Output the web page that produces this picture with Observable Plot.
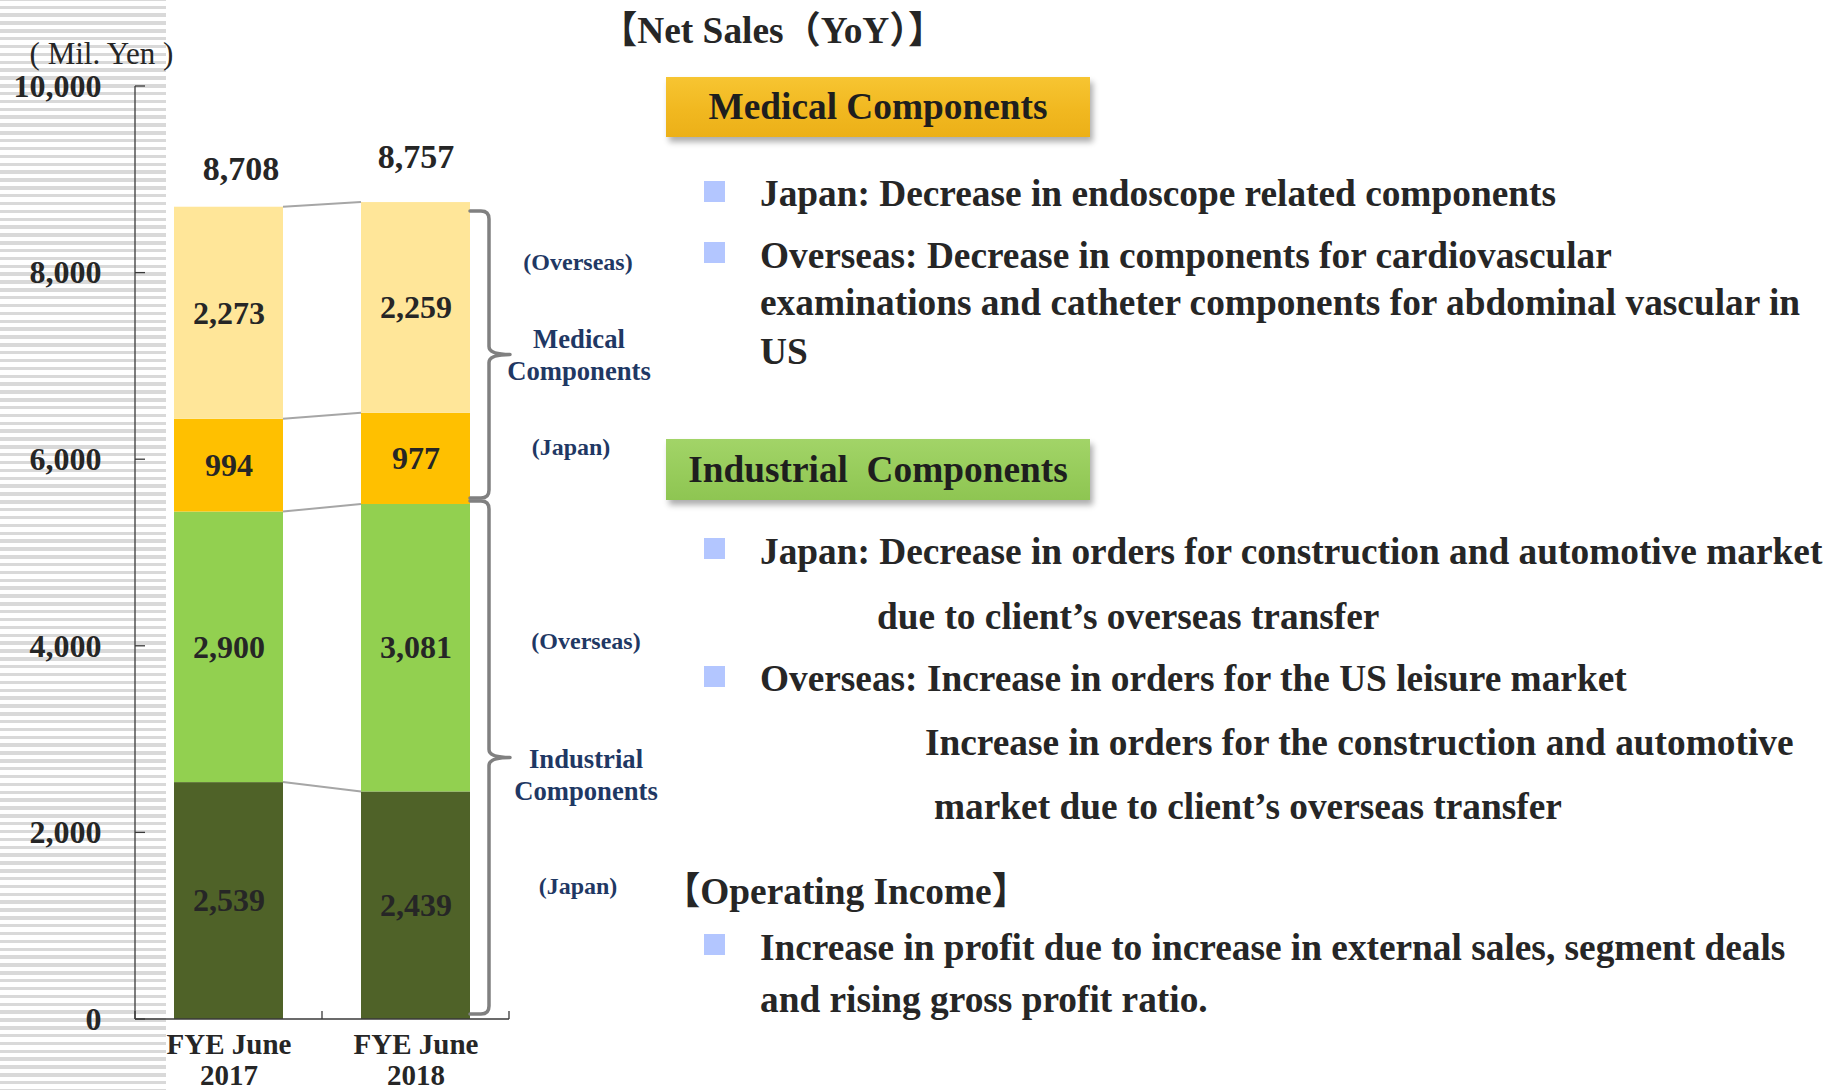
<!DOCTYPE html>
<html>
<head>
<meta charset="utf-8">
<script src="https://cdn.jsdelivr.net/npm/d3@7"></script>
<script src="https://cdn.jsdelivr.net/npm/@observablehq/plot@0.6"></script>
<style>
  html, body { margin: 0; padding: 0; background: #fff; overflow: hidden; }
  #page { position: relative; width: 1828px; height: 1090px; overflow: hidden;
    font-family: "Liberation Serif", "Times New Roman", "Noto Sans CJK JP", serif; }
  #stripes { position: absolute; left: 0; top: 0; width: 166px; height: 1090px;
    background: repeating-linear-gradient(180deg, #d9d9d9 0px, #d9d9d9 1.2px, #ffffff 1.2px, #ffffff 5.6px, #d9d9d9 5.6px, #d9d9d9 7.85px); }
  #chart { position: absolute; left: 0; top: 0; }
  .t { position: absolute; white-space: pre; font-weight: bold; font-size: 37.33px; line-height: 44.8px; color: #262626; }
  .box { position: absolute; left: 666px; width: 424px; text-align: center; white-space: pre;
    font-weight: bold; font-size: 37.33px; color: #1e1e1e; box-shadow: 3px 5px 6px rgba(0,0,0,0.32); }
  .bullet { position: absolute; width: 21px; height: 21px; background: #b3c6ff; }
</style>
</head>
<body>
<div id="page">
  <div id="stripes"></div>
  <div id="chart"></div>
</div>
<script>
// ---------------- data ----------------
const years = ["FYE June 2017", "FYE June 2018"];
const seriesNames = ["Industrial (Japan)", "Industrial (Overseas)", "Medical (Japan)", "Medical (Overseas)"];
const seriesColors = ["#4F6228", "#92D050", "#FFC000", "#FFE699"];
const industrialJapan = [2539, 2439];
const industrialOverseas = [2900, 3081];
const medicalJapan = [994, 977];
const medicalOverseas = [2273, 2259];
const totals = [8708, 8757];
const yTicks = [0, 2000, 4000, 6000, 8000, 10000];
const yUnit = "( Mil. Yen )";
const groupNames = ["Medical\nComponents", "Industrial\nComponents"];
const regionNames = ["(Overseas)", "(Japan)"];

const title = "【Net Sales（YoY）】";
const medicalHeading = "Medical Components";
const medicalNotes = [
  "Japan: Decrease in endoscope related components",
  "Overseas: Decrease in components for cardiovascular",
  "examinations and catheter components for abdominal vascular in",
  "US"
];
const industrialHeading = "Industrial  Components";
const industrialNotes = [
  "Japan: Decrease in orders for construction and automotive market",
  "due to client’s overseas transfer",
  "Overseas: Increase in orders for the US leisure market",
  "Increase in orders for the construction and automotive",
  "market due to client’s overseas transfer"
];
const incomeHeading = "【Operating Income】";
const incomeNotes = [
  "Increase in profit due to increase in external sales, segment deals",
  "and rising gross profit ratio."
];

// ---------------- derived tables ----------------
const seriesValues = [industrialJapan, industrialOverseas, medicalJapan, medicalOverseas];
const rows = [];
years.forEach((year, i) => {
  let acc = 0;
  seriesValues.forEach((vals, s) => {
    rows.push({year, series: seriesNames[s], value: vals[i], y1: acc, y2: acc + vals[i]});
    acc += vals[i];
  });
});
const totalRows = years.map((year, i) => ({year, total: totals[i]}));
const totalOffsets = [{dx: 12, dy: -38}, {dx: 0, dy: -45}];
const fmt = d3.format(",");
const last = years[years.length - 1];
const seg = (s) => rows.find(r => r.year === last && r.series === seriesNames[s]);
const mid = (r) => (r.y1 + r.y2) / 2;

const FONT = '"Liberation Serif", "Times New Roman", serif';
const NAVY = "#1F3864";
const INK = "#262626";

// annotation layer: axis lines, boundary ticks, connectors, braces
function annotationLayer(index, scales, values, dimensions) {
  const sx = scales.x, sy = scales.y;
  const bw = typeof sx.bandwidth === "function" ? sx.bandwidth() : sx.bandwidth;
  const {width, height, marginLeft, marginRight, marginBottom} = dimensions;
  const left = marginLeft, right = width - marginRight, bottom = height - marginBottom;
  const g = d3.create("svg:g");
  const axisColor = "#3a3a3a";
  g.append("line").attr("x1", left).attr("x2", left)
    .attr("y1", sy(yTicks[yTicks.length - 1])).attr("y2", bottom)
    .attr("stroke", axisColor).attr("stroke-width", 1.3);
  g.append("line").attr("x1", left).attr("x2", right).attr("y1", bottom).attr("y2", bottom)
    .attr("stroke", axisColor).attr("stroke-width", 1.3);
  for (const t of yTicks) {
    g.append("line").attr("x1", left).attr("x2", left + 10).attr("y1", sy(t)).attr("y2", sy(t))
      .attr("stroke", axisColor).attr("stroke-width", 1.3);
  }
  const edges = [left];
  for (let i = 1; i < years.length; i++) edges.push((sx(years[i - 1]) + bw + sx(years[i])) / 2);
  edges.push(right);
  for (const e of edges) {
    g.append("line").attr("x1", e).attr("x2", e).attr("y1", bottom).attr("y2", bottom - 8)
      .attr("stroke", axisColor).attr("stroke-width", 1.3);
  }
  // connectors between stacked boundaries
  for (let i = 0; i < years.length - 1; i++) {
    const a = rows.filter(r => r.year === years[i]);
    const b = rows.filter(r => r.year === years[i + 1]);
    a.forEach((ra, s) => {
      g.append("line")
        .attr("x1", sx(years[i]) + bw).attr("y1", sy(ra.y2))
        .attr("x2", sx(years[i + 1])).attr("y2", sy(b[s].y2))
        .attr("stroke", "#a6a6a6").attr("stroke-width", 2);
    });
  }
  // braces
  const x0 = sx(last) + bw;
  const brace = (yTop, yBot) => {
    const xv = x0 + 19, xt = x0 + 40, r = 8, ym = (yTop + yBot) / 2;
    return `M${x0},${yTop} L${xv - r},${yTop} Q${xv},${yTop} ${xv},${yTop + r} L${xv},${ym - r} Q${xv},${ym} ${xt},${ym} ` +
           `Q${xv},${ym} ${xv},${ym + r} L${xv},${yBot - r} Q${xv},${yBot} ${xv - r},${yBot} L${x0},${yBot}`;
  };
  const medTop = sy(seg(3).y2) + 9, medBot = sy(seg(2).y1) - 6;
  const indTop = sy(seg(1).y2) - 3, indBot = sy(seg(0).y1) - 5;
  for (const d of [brace(medTop, medBot), brace(indTop, indBot)]) {
    g.append("path").attr("d", d).attr("fill", "none").attr("stroke", "#808080")
      .attr("stroke-width", 3.5).attr("stroke-linejoin", "round").attr("stroke-linecap", "round");
  }
  return g.node();
}

const braceLabels = [
  {year: last, text: regionNames[0], y: mid(seg(3)), dx: 162, dy: -47, size: 24},
  {year: last, text: groupNames[0], y: (seg(2).y1 + seg(3).y2) / 2, dx: 163, dy: 0, size: 26.67},
  {year: last, text: regionNames[1], y: mid(seg(2)), dx: 155, dy: -13, size: 24},
  {year: last, text: regionNames[0], y: mid(seg(1)), dx: 170, dy: -8, size: 24},
  {year: last, text: groupNames[1], y: (seg(0).y1 + seg(1).y2) / 2, dx: 170, dy: 12, size: 26.67},
  {year: last, text: regionNames[1], y: mid(seg(0)), dx: 162, dy: -21, size: 24}
];

const chart = Plot.plot({
  width: 700,
  height: 1090,
  marginLeft: 135,
  marginRight: 191,
  marginTop: 86,
  marginBottom: 71,
  style: {background: "transparent", fontFamily: FONT, color: INK, overflow: "visible"},
  x: {domain: years, paddingInner: 0.416, paddingOuter: 0.208, align: 0.5, label: null},
  y: {domain: [0, 10000], label: null},
  color: {domain: seriesNames, range: seriesColors},
  marks: [
    Plot.barY(rows, {x: "year", y1: "y1", y2: "y2", fill: "series"}),
    annotationLayer,
    Plot.text(rows, {x: "year", y: d => (d.y1 + d.y2) / 2, text: d => fmt(d.value),
      fontSize: 32, fontWeight: "bold", fill: INK}),
    ...totalRows.map((t, i) => Plot.text([t], {x: "year", y: "total", text: d => fmt(d.total),
      dx: totalOffsets[i].dx, dy: totalOffsets[i].dy, fontSize: 34, fontWeight: "bold", fill: INK})),
    Plot.axisY({ticks: yTicks, tickSize: 0, tickPadding: 34, tickFormat: fmt, label: null,
      fontSize: 32, fontWeight: "bold", color: INK}),
    Plot.axisX({tickSize: 0, tickPadding: 13, label: null,
      tickFormat: d => d.replace(/ (\d{4})$/, "\n$1"),
      fontSize: 29, fontWeight: "bold", lineHeight: 1.05, color: INK}),
    Plot.text([yUnit], {frameAnchor: "top-left", text: d => d, textAnchor: "middle", lineAnchor: "middle",
      dx: -34, dy: -32, fontSize: 31, fill: INK}),
    ...braceLabels.map(b => Plot.text([b], {x: "year", y: "y", text: "text", dx: b.dx, dy: b.dy,
      fontSize: b.size, fontWeight: "bold", fill: NAVY, lineHeight: 1.2}))
  ]
});
document.getElementById("chart").appendChild(chart);

// ---------------- right-hand notes (HTML) ----------------
const page = document.getElementById("page");
function addText(str, x, baseline) {
  const d = document.createElement("div");
  d.className = "t";
  d.textContent = str;
  d.style.left = x + "px";
  d.style.top = (baseline - 32.5) + "px";
  page.appendChild(d);
}
function addBullet(x, y) {
  const b = document.createElement("div");
  b.className = "bullet";
  b.style.left = x + "px";
  b.style.top = y + "px";
  page.appendChild(b);
}
function addBox(str, top, h, bg) {
  const b = document.createElement("div");
  b.className = "box";
  b.textContent = str;
  b.style.top = top + "px";
  b.style.height = h + "px";
  b.style.lineHeight = h + "px";
  b.style.background = bg;
  page.appendChild(b);
}

addText(title, 600, 41);
addBox(medicalHeading, 77, 60, "linear-gradient(180deg, #f7c532 0%, #f1b820 55%, #ecb018 100%)");
addBullet(704, 181);
addText(medicalNotes[0], 760, 204);
addBullet(704, 242);
addText(medicalNotes[1], 760, 266);
addText(medicalNotes[2], 760, 313);
addText(medicalNotes[3], 760, 362);

addBox(industrialHeading, 439, 61, "linear-gradient(180deg, #a2d468 0%, #97cc5b 55%, #8ec552 100%)");
addBullet(704, 538);
addText(industrialNotes[0], 760, 562);
addText(industrialNotes[1], 877, 627);
addBullet(704, 666);
addText(industrialNotes[2], 760, 689);
addText(industrialNotes[3], 925, 753);
addText(industrialNotes[4], 934, 817);

addText(incomeHeading, 663, 902);
addBullet(704, 934);
addText(incomeNotes[0], 760, 958);
addText(incomeNotes[1], 760, 1010);
</script>
</body>
</html>
